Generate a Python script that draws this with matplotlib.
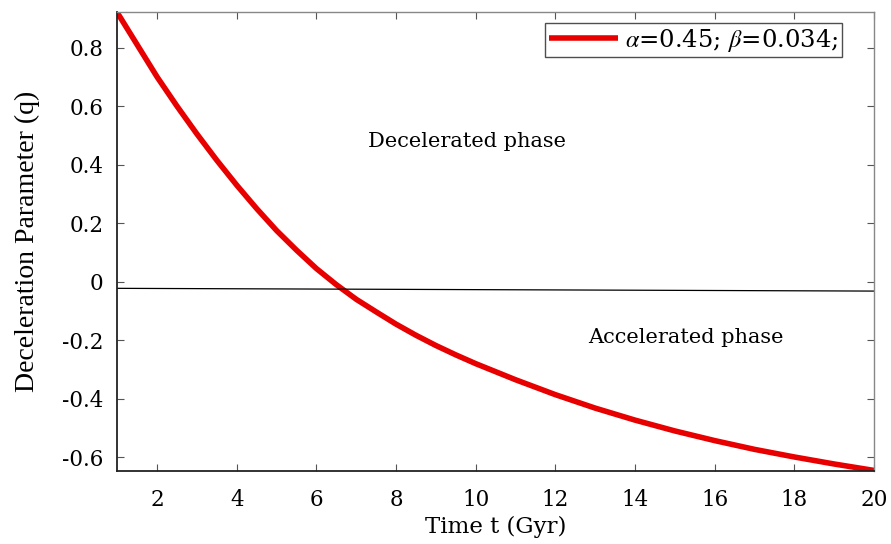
import matplotlib
matplotlib.use("Agg")
import matplotlib.pyplot as plt

# deceleration parameter q
Time = [1, 1.5, 2, 2.5, 3, 3.5, 4, 4.5, 5, 5.5, 6, 6.5, 7, 7.5, 8, 8.5, 9, 9.5, 10,
        11, 12, 13, 14, 15, 16, 17, 18, 19, 20]
Q = [0.92, 0.81, 0.70, 0.60, 0.505, 0.415, 0.33, 0.25, 0.175, 0.108, 0.045, -0.01,
     -0.06, -0.103, -0.145, -0.183, -0.218, -0.25, -0.28,
     -0.335, -0.386, -0.432, -0.473, -0.51, -0.543, -0.573, -0.599, -0.623, -0.645]

# thin black reference line (slightly tilted in the original)
RefT = [1, 20]
RefQ = [-0.0226, -0.032]

XTicks = [2, 4, 6, 8, 10, 12, 14, 16, 18, 20]
YTicks = [-0.6, -0.4, -0.2, 0, 0.2, 0.4, 0.6, 0.8]
YTickLabels = ['-0.6', '-0.4', '-0.2', '0', '0.2', '0.4', '0.6', '0.8']

plt.rcParams['font.family'] = ['DejaVu Serif']
plt.rcParams['mathtext.fontset'] = 'stix'

Figure = plt.figure(figsize=(8.91, 5.44), dpi=100)
Ax = Figure.add_axes([0.1316, 0.1347, 0.8493, 0.8433])

Ax.plot(Time, Q, color='#e80000', linewidth=4, solid_capstyle='butt',
        solid_joinstyle='round', label=r'$\alpha$=0.45; $\beta$=0.034;')
Ax.plot(RefT, RefQ, color='black', linewidth=0.9)

Ax.text(9.77, 0.478, 'Decelerated phase', fontsize=15, ha='center', va='center')
Ax.text(15.27, -0.19, 'Accelerated phase', fontsize=15, ha='center', va='center')

Ax.set_xlim(1, 20)
Ax.set_ylim(-0.646, 0.922)
Ax.set_xticks(XTicks)
Ax.set_yticks(YTicks)
Ax.set_yticklabels(YTickLabels)
Ax.tick_params(direction='in', top=True, right=True, labelsize=15.5, length=5,
               width=0.8, color='#555555')
Ax.tick_params(axis='x', pad=13)
Ax.tick_params(axis='y', pad=10)

for side in ['top', 'right']:
    Ax.spines[side].set_color('#888888')
    Ax.spines[side].set_linewidth(1.0)
for side in ['left', 'bottom']:
    Ax.spines[side].set_color('#222222')
    Ax.spines[side].set_linewidth(1.3)

Ax.set_xlabel('Time t (Gyr)', fontsize=16.5, labelpad=4)
Ax.set_ylabel('Deceleration Parameter (q)', fontsize=20, labelpad=16,
              family='Liberation Serif')

Legend = Ax.legend(loc='upper right', bbox_to_anchor=(0.958, 0.976), fontsize=17.5,
                   frameon=True, fancybox=False, handlelength=2.85, handletextpad=0.3,
                   borderpad=0.15, borderaxespad=0)
Legend.get_frame().set_edgecolor('#222222')
Legend.get_frame().set_linewidth(1.0)

Figure.savefig('out.png', dpi=100)
